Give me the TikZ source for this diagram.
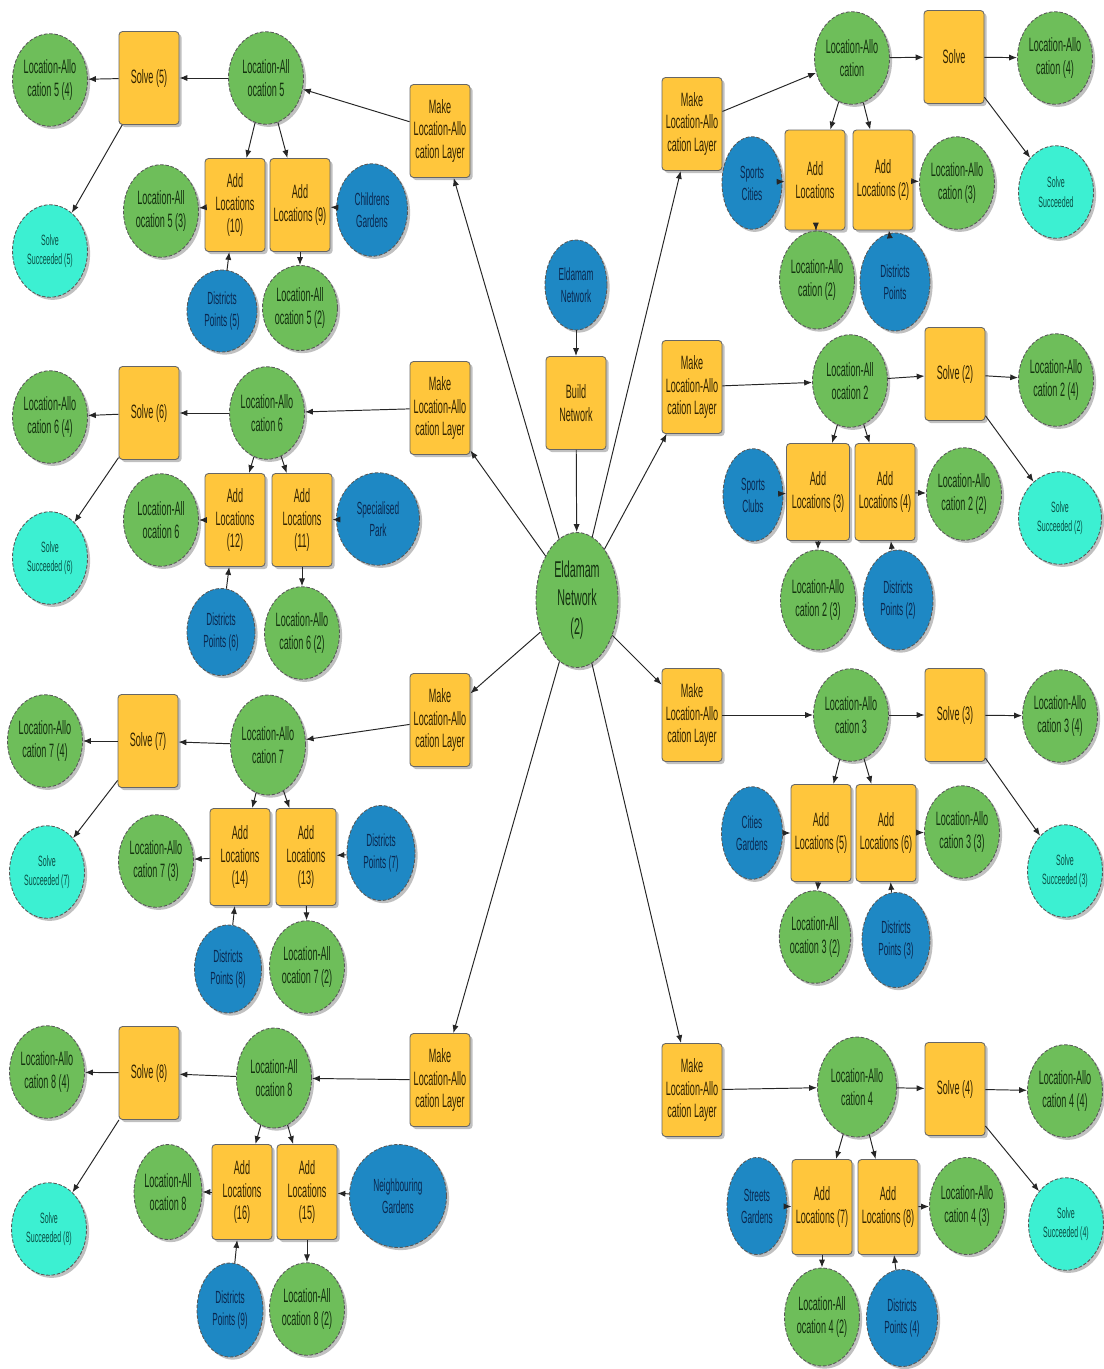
\documentclass[tikz,border=0pt]{standalone}
\usepackage{fontspec}
\setmainfont{Liberation Sans}[FakeStretch=0.47]
\usetikzlibrary{shapes.geometric,arrows.meta,shadows}
\definecolor{lagreen}{RGB}{110,190,90}
\definecolor{latext}{RGB}{20,50,15}
\definecolor{inblue}{RGB}{30,136,196}
\definecolor{intext}{RGB}{10,40,80}
\definecolor{okcyan}{RGB}{60,240,210}
\definecolor{oktext}{RGB}{10,80,70}
\definecolor{toolyellow}{RGB}{255,198,60}
\definecolor{tooltext}{RGB}{50,35,0}

\begin{document}
\begin{tikzpicture}[x=0.02cm,y=-0.02cm]
  \tikzset{shd/.style={drop shadow={shadow xshift=1.5pt,shadow yshift=-1.5pt,opacity=0.35,fill=black!70}},
    dat/.style={ellipse,draw=black!65,dash pattern=on 2pt off 1pt,line width=0.5pt,minimum width=1.5cm,minimum height=1.85cm,inner sep=0pt,align=center,font=\fontsize{11}{13}\selectfont,shd},
    la/.style={dat,fill=lagreen,text=latext},
    inp/.style={dat,fill=inblue,text=intext,font=\fontsize{10}{12.5}\selectfont},
    ok/.style={dat,fill=okcyan,text=oktext,font=\fontsize{8.5}{11}\selectfont},
    tool/.style={rectangle,rounded corners=2pt,draw=black!60,line width=0.5pt,fill=toolyellow,text=tooltext,minimum width=1.2cm,minimum height=1.86cm,inner sep=0pt,align=center,font=\fontsize{11}{13}\selectfont,shd},
    conn/.style={-{Latex[length=4.5pt,width=3.5pt]},line width=0.55pt,draw=black!85}}
  \useasboundingbox[fill=white] (0,0) rectangle (1104,1369);
  % centre
  \node(en)[inp,minimum width=1.24cm,minimum height=1.8cm] at (576,285) {Eldamam\\Network};
  \node(build)[tool] at (576,403) {Build\\Network};
  \node(en2)[la,minimum width=1.64cm,minimum height=2.7cm,font=\fontsize{13}{16}\selectfont] at (577,600) {Eldamam\\Network\\(2)};
  % left, top
  \node(la5four)[la] at (50,80) {Location-Allo\\cation 5 (4)};
  \node(solve5)[tool] at (149,78) {Solve (5)};
  \node(la5)[la] at (266,78) {Location-All\\ocation 5};
  \node(make5)[tool] at (440,131) {Make\\Location-Allo\\cation Layer};
  \node(succ5)[ok] at (50,251) {Solve\\Succeeded (5)};
  \node(la5three)[la] at (161,211) {Location-All\\ocation 5 (3)};
  \node(add10)[tool] at (235,205) {Add\\Locations\\(10)};
  \node(add9)[tool] at (300,205) {Add\\Locations (9)};
  \node(child)[inp,minimum width=1.42cm] at (372,210) {Childrens\\Gardens};
  \node(dp5)[inp,minimum width=1.4cm,minimum height=1.64cm] at (222,311) {Districts\\Points (5)};
  \node(la5two)[la,minimum height=1.7cm] at (300,308) {Location-All\\ocation 5 (2)};
  % left, second
  \node(la6four)[la] at (50,417) {Location-Allo\\cation 6 (4)};
  \node(solve6)[tool] at (149,413) {Solve (6)};
  \node(la6)[la] at (267,413) {Location-Allo\\cation 6};
  \node(make6)[tool] at (440,408) {Make\\Location-Allo\\cation Layer};
  \node(succ6)[ok] at (50,558) {Solve\\Succeeded (6)};
  \node(la6three)[la] at (161,520) {Location-All\\ocation 6};
  \node(add12)[tool] at (235,520) {Add\\Locations\\(12)};
  \node(add11)[tool] at (302,520) {Add\\Locations\\(11)};
  \node(spec)[inp,minimum width=1.66cm] at (378,519) {Specialised\\Park};
  \node(dp6)[inp,minimum width=1.36cm,minimum height=1.74cm] at (221,632) {Districts\\Points (6)};
  \node(la6two)[la] at (302,633) {Location-Allo\\cation 6 (2)};
  % left, third
  \node(la7four)[la] at (45,741) {Location-Allo\\cation 7 (4)};
  \node(solve7)[tool] at (148,741) {Solve (7)};
  \node(la7)[la,minimum height=2cm] at (268,745) {Location-Allo\\cation 7};
  \node(make7)[tool] at (440,720) {Make\\Location-Allo\\cation Layer};
  \node(succ7)[ok] at (47,872) {Solve\\Succeeded (7)};
  \node(la7three)[la] at (156,861) {Location-Allo\\cation 7 (3)};
  \node(add14)[tool,minimum height=1.94cm] at (240,857) {Add\\Locations\\(14)};
  \node(add13)[tool,minimum height=1.94cm] at (306,857) {Add\\Locations\\(13)};
  \node(dp7)[inp,minimum width=1.36cm,minimum height=1.9cm] at (381,853) {Districts\\Points (7)};
  \node(dp8)[inp,minimum width=1.34cm,minimum height=1.76cm] at (228,969) {Districts\\Points (8)};
  \node(la7two)[la] at (307,967) {Location-All\\ocation 7 (2)};
  % left, bottom
  \node(la8four)[la] at (47,1072) {Location-Allo\\cation 8 (4)};
  \node(solve8)[tool] at (149,1073) {Solve (8)};
  \node(la8)[la,minimum height=2cm] at (274,1078) {Location-All\\ocation 8};
  \node(make8)[tool] at (440,1080) {Make\\Location-Allo\\cation Layer};
  \node(succ8)[ok] at (49,1229) {Solve\\Succeeded (8)};
  \node(la8three)[la,minimum width=1.36cm,minimum height=1.9cm] at (168,1192) {Location-All\\ocation 8};
  \node(add16)[tool,minimum height=1.9cm] at (242,1192) {Add\\Locations\\(16)};
  \node(add15)[tool,minimum height=1.9cm] at (307,1192) {Add\\Locations\\(15)};
  \node(neigh)[inp,minimum width=1.94cm,minimum height=2.06cm] at (398,1196) {Neighbouring\\Gardens};
  \node(dp9)[inp,minimum width=1.32cm,minimum height=1.88cm] at (230,1310) {Districts\\Points (9)};
  \node(la8two)[la] at (307,1309) {Location-All\\ocation 8 (2)};
  % right, top
  \node(make1)[tool] at (692,124) {Make\\Location-Allo\\cation Layer};
  \node(la1)[la] at (852,58) {Location-Allo\\cation};
  \node(solve1)[tool] at (954,57) {Solve};
  \node(la1four)[la] at (1055,58) {Location-Allo\\cation (4)};
  \node(succ1)[ok] at (1056,192) {Solve\\Succeeded};
  \node(spc)[inp,minimum width=1.2cm] at (752,183) {Sports\\Cities};
  \node(addl1)[tool,minimum height=2cm] at (815,180) {Add\\Locations};
  \node(addl2)[tool,minimum height=2cm] at (883,180) {Add\\Locations (2)};
  \node(la1three)[la] at (957,183) {Location-Allo\\cation (3)};
  \node(la1two)[la,minimum height=1.96cm] at (817,280) {Location-Allo\\cation (2)};
  \node(dp1)[inp,minimum width=1.4cm,minimum height=1.96cm] at (895,282) {Districts\\Points};
  % right, second
  \node(make2)[tool] at (692,387) {Make\\Location-Allo\\cation Layer};
  \node(la2)[la] at (850,381) {Location-All\\ocation 2};
  \node(solve2)[tool] at (955,374) {Solve (2)};
  \node(la2four)[la] at (1056,380) {Location-Allo\\cation 2 (4)};
  \node(succ2)[ok,minimum width=1.66cm] at (1060,518) {Solve\\Succeeded (2)};
  \node(spcl)[inp,minimum width=1.2cm] at (753,495) {Sports\\Clubs};
  \node(add3)[tool,minimum width=1.26cm,minimum height=1.94cm] at (818,492) {Add\\Locations (3)};
  \node(add4)[tool,minimum height=1.94cm] at (885,492) {Add\\Locations (4)};
  \node(la2two)[la] at (964,494) {Location-Allo\\cation 2 (2)};
  \node(la2three)[la,minimum height=2cm] at (818,600) {Location-Allo\\cation 2 (3)};
  \node(dp2)[inp,minimum width=1.4cm,minimum height=2cm] at (898,600) {Districts\\Points (2)};
  % right, third
  \node(make3)[tool] at (692,715) {Make\\Location-Allo\\cation Layer};
  \node(la3)[la] at (851,715) {Location-Allo\\cation 3};
  \node(solve3)[tool] at (955,715) {Solve (3)};
  \node(la3four)[la] at (1060,716) {Location-Allo\\cation 3 (4)};
  \node(succ3)[ok] at (1065,871) {Solve\\Succeeded (3)};
  \node(citg)[inp,minimum width=1.22cm] at (752,833) {Cities\\Gardens};
  \node(add5)[tool,minimum height=1.94cm] at (821,833) {Add\\Locations (5)};
  \node(add6)[tool,minimum height=1.94cm] at (886,833) {Add\\Locations (6)};
  \node(la3three)[la] at (962,832) {Location-Allo\\cation 3 (3)};
  \node(la3two)[la,minimum width=1.4cm] at (815,937) {Location-All\\ocation 3 (2)};
  \node(dp3)[inp,minimum width=1.36cm,minimum height=1.9cm] at (896,940) {Districts\\Points (3)};
  % right, bottom
  \node(make4)[tool] at (692,1090) {Make\\Location-Allo\\cation Layer};
  \node(la4)[la,minimum width=1.58cm,minimum height=2cm] at (857,1087) {Location-Allo\\cation 4};
  \node(solve4)[tool] at (955,1089) {Solve (4)};
  \node(la4four)[la] at (1065,1091) {Location-Allo\\cation 4 (4)};
  \node(succ4)[ok] at (1066,1224) {Solve\\Succeeded (4)};
  \node(strg)[inp,minimum width=1.2cm,minimum height=1.94cm] at (757,1206) {Streets\\Gardens};
  \node(add7)[tool,minimum height=1.9cm] at (822,1207) {Add\\Locations (7)};
  \node(add8)[tool,minimum height=1.9cm] at (888,1207) {Add\\Locations (8)};
  \node(la4three)[la,minimum height=1.94cm] at (967,1206) {Location-Allo\\cation 4 (3)};
  \node(la4two)[la,minimum height=1.96cm] at (822,1317) {Location-All\\ocation 4 (2)};
  \node(dp4)[inp,minimum width=1.42cm,minimum height=1.94cm] at (902,1318) {Districts\\Points (4)};
  % connectors
  \foreach\a/\b in {en/build,build/en2,en2/make1,en2/make2,en2/make3,en2/make4,en2/make5,en2/make6,en2/make7,en2/make8}
    \draw[conn] (\a) -- (\b);
  \foreach\k in {1,...,8}{
    \draw[conn] (make\k) -- (la\k);
    \draw[conn] (la\k) -- (solve\k);
    \draw[conn] (solve\k) -- (la\k four);
    \draw[conn] (solve\k) -- (succ\k);}
  \foreach\a/\b in {la5/add10,la5/add9,add10/la5three,child/add9,dp5/add10,add9/la5two,
    la6/add12,la6/add11,add12/la6three,spec/add11,dp6/add12,add11/la6two,
    la7/add14,la7/add13,add14/la7three,dp7/add13,dp8/add14,add13/la7two,
    la8/add16,la8/add15,add16/la8three,neigh/add15,dp9/add16,add15/la8two,
    la1/addl1,la1/addl2,spc/addl1,addl2/la1three,addl1/la1two,dp1/addl2,
    la2/add3,la2/add4,spcl/add3,add4/la2two,add3/la2three,dp2/add4,
    la3/add5,la3/add6,citg/add5,add6/la3three,add5/la3two,dp3/add6,
    la4/add7,la4/add8,strg/add7,add8/la4three,add7/la4two,dp4/add8}
    \draw[conn] (\a) -- (\b);
\end{tikzpicture}
\end{document}
